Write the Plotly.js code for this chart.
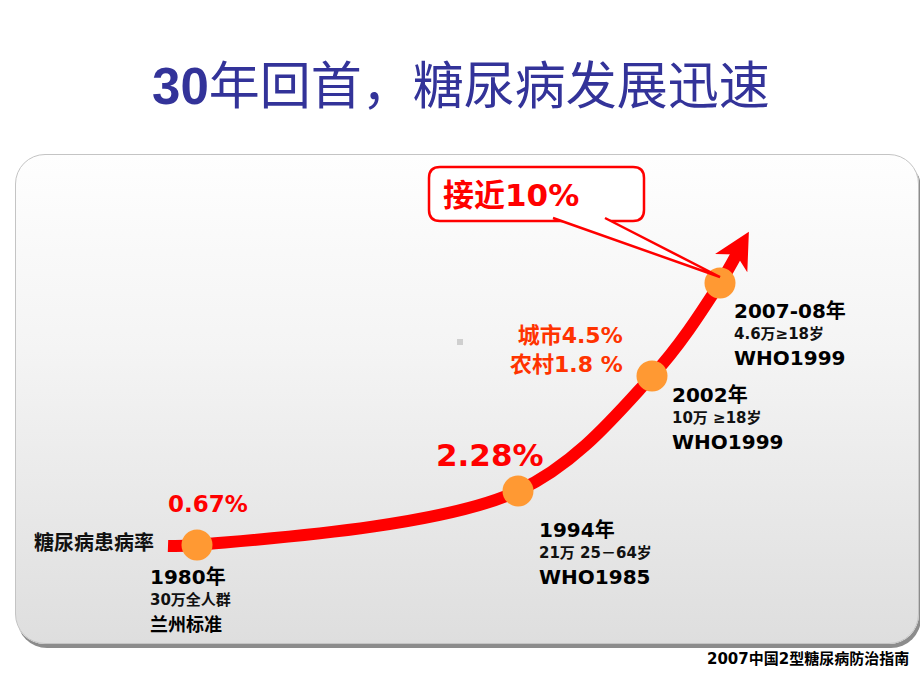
<!DOCTYPE html>
<html>
<head>
<meta charset="utf-8">
<script src="https://cdn.plot.ly/plotly-3.0.1.min.js"></script>
<style>
  html, body { margin: 0; padding: 0; background: #ffffff; }
  #wrap { position: relative; width: 920px; height: 690px; overflow: hidden; }
  #panel {
    position: absolute; left: 15px; top: 154px; width: 902px; height: 488px;
    border: 1px solid #c4c4c4; border-radius: 30px;
    background: linear-gradient(#fefefe, #f4f4f4 40%, #dedede);
    box-shadow: 2px 4px 0 #8c8c8c;
  }
  #chart { position: absolute; left: 0; top: 0; width: 920px; height: 690px; }
</style>
</head>
<body>
<div id="wrap"><div id="panel"></div><div id="chart"></div></div>
<script>
// ---- data ----
const years     = ['1980年', '1994年', '2002年', '2007-08年'];
const samples   = ['30万全人群', '21万 25－64岁', '10万 ≥18岁', '4.6万≥18岁'];
const criteria  = ['兰州标准', 'WHO1985', 'WHO1999', 'WHO1999'];
const rates     = ['0.67%', '2.28%', '城市4.5%<br>农村1.8 %', '接近10%'];
const seriesName = '糖尿病患病率';
const chartTitle = '<b>30</b>年回首，糖尿病发展迅速';
const sourceNote = '2007中国2型糖尿病防治指南';

// ---- layout positions (illustrative frame, 920 x 690) ----
const posX = [197, 518, 652, 720];
const posY = [545, 491, 376, 283];
const curveStart = [168, 546];
const curveEnd = [742, 244];
const labelX = [148, 537, 670, 732];
const labelY = [577, 530, 395, 311];
const rateX = [166, 434, 625, 441];
const rateY = [504, 455, 350, 195];

const CJK = 'DejaVu Sans, Noto Sans CJK SC, sans-serif';
const RED = '#ff0000';

const lineX = [curveStart[0]].concat(posX, [curveEnd[0]]);
const lineY = [curveStart[1]].concat(posY, [curveEnd[1]]);

const traces = [
  {
    x: lineX, y: lineY, mode: 'lines', type: 'scatter',
    line: { color: RED, width: 12, shape: 'spline', smoothing: 1 },
    hoverinfo: 'skip', name: seriesName
  },
  {
    x: posX, y: posY, mode: 'markers', type: 'scatter',
    marker: { color: '#ff9933', size: 31, line: { width: 0 } },
    text: years, hoverinfo: 'text', name: seriesName
  }
];

// arrowhead from last curve direction
const px = posX[posX.length - 1], py = posY[posY.length - 1];
let dx = curveEnd[0] - px, dy = curveEnd[1] - py;
const dl = Math.hypot(dx, dy); dx /= dl; dy /= dl;
const nx = -dy, ny = dx;
const tip = [curveEnd[0] + dx * 14, curveEnd[1] + dy * 14];
const base = [tip[0] - dx * 36, tip[1] - dy * 36];
const b1 = [base[0] + nx * 18.5, base[1] + ny * 18.5];
const b2 = [base[0] - nx * 18.5, base[1] - ny * 18.5];
const notch = [tip[0] - dx * 26, tip[1] - dy * 26];

function rrect(x0, y0, x1, y1, r) {
  return `M${x0 + r},${y0} L${x1 - r},${y0} Q${x1},${y0} ${x1},${y0 + r} L${x1},${y1 - r} Q${x1},${y1} ${x1 - r},${y1} L${x0 + r},${y1} Q${x0},${y1} ${x0},${y1 - r} L${x0},${y0 + r} Q${x0},${y0} ${x0 + r},${y0} Z`;
}

const shapes = [
  { type: 'path', xref: 'x', yref: 'y', layer: 'above',
    path: `M${tip[0]},${tip[1]} L${b1[0]},${b1[1]} L${notch[0]},${notch[1]} L${b2[0]},${b2[1]} Z`,
    fillcolor: RED, line: { width: 0 } },
  { type: 'path', xref: 'x', yref: 'y', layer: 'above',
    path: rrect(429, 167, 644, 221, 11),
    fillcolor: '#ffffff', line: { color: RED, width: 2.5 } },
  { type: 'path', xref: 'x', yref: 'y', layer: 'above',
    path: `M553,218 L${px},${py - 6} L605,218`,
    fillcolor: '#ffffff', line: { color: RED, width: 2.5 } },
  { type: 'rect', xref: 'x', yref: 'y', layer: 'above',
    x0: 457, x1: 463, y0: 339, y1: 345, fillcolor: '#cfcfcf', line: { width: 0 } }
];

const annotations = [];
function addText(x, y, text, size, color, anchor, bold) {
  annotations.push({
    x: x, y: y, xref: 'x', yref: 'y', text: bold ? '<b>' + text + '</b>' : text,
    showarrow: false, xanchor: anchor || 'left', yanchor: 'middle',
    font: { family: CJK, size: size, color: color || '#000000' }
  });
}

// series label
addText(32, 543, seriesName, 20, '#111111', 'left', true);

// per-point labels
for (let i = 0; i < years.length; i++) {
  addText(labelX[i], labelY[i], years[i], 20, '#000000', 'left', true);
  addText(labelX[i], labelY[i] + 23, samples[i], 15, '#111111', 'left', true);
  addText(labelX[i], labelY[i] + 47, criteria[i], i === 0 ? 18 : 20, '#000000', 'left', true);
}

// rate labels
addText(rateX[0], rateY[0], rates[0], 23, RED, 'left', true);
addText(rateX[1], rateY[1], rates[1], 31, RED, 'left', true);
annotations.push({
  x: rateX[2], y: rateY[2], xref: 'x', yref: 'y',
  text: '<b>' + rates[2] + '</b>', showarrow: false, xanchor: 'right', yanchor: 'middle',
  align: 'right', font: { family: CJK, size: 22, color: '#ff3300' }
});
addText(rateX[3], rateY[3], rates[3], 31, RED, 'left', true);

// source note
addText(911, 659, sourceNote, 15, '#000000', 'right', true);

const layout = {
  width: 920, height: 690,
  margin: { l: 0, r: 0, t: 0, b: 0, pad: 0 },
  paper_bgcolor: 'rgba(0,0,0,0)', plot_bgcolor: 'rgba(0,0,0,0)',
  showlegend: false,
  title: {
    text: chartTitle, x: 0.501, xanchor: 'center', xref: 'paper',
    y: 1 - 86 / 690, yref: 'container', yanchor: 'middle',
    font: { family: 'Liberation Sans, Noto Sans CJK SC, sans-serif', size: 51, color: '#333399' }
  },
  xaxis: { range: [0, 920], visible: false, fixedrange: true },
  yaxis: { range: [690, 0], visible: false, fixedrange: true },
  shapes: shapes,
  annotations: annotations
};

Plotly.newPlot('chart', traces, layout, { displayModeBar: false, staticPlot: true });
</script>
</body>
</html>
